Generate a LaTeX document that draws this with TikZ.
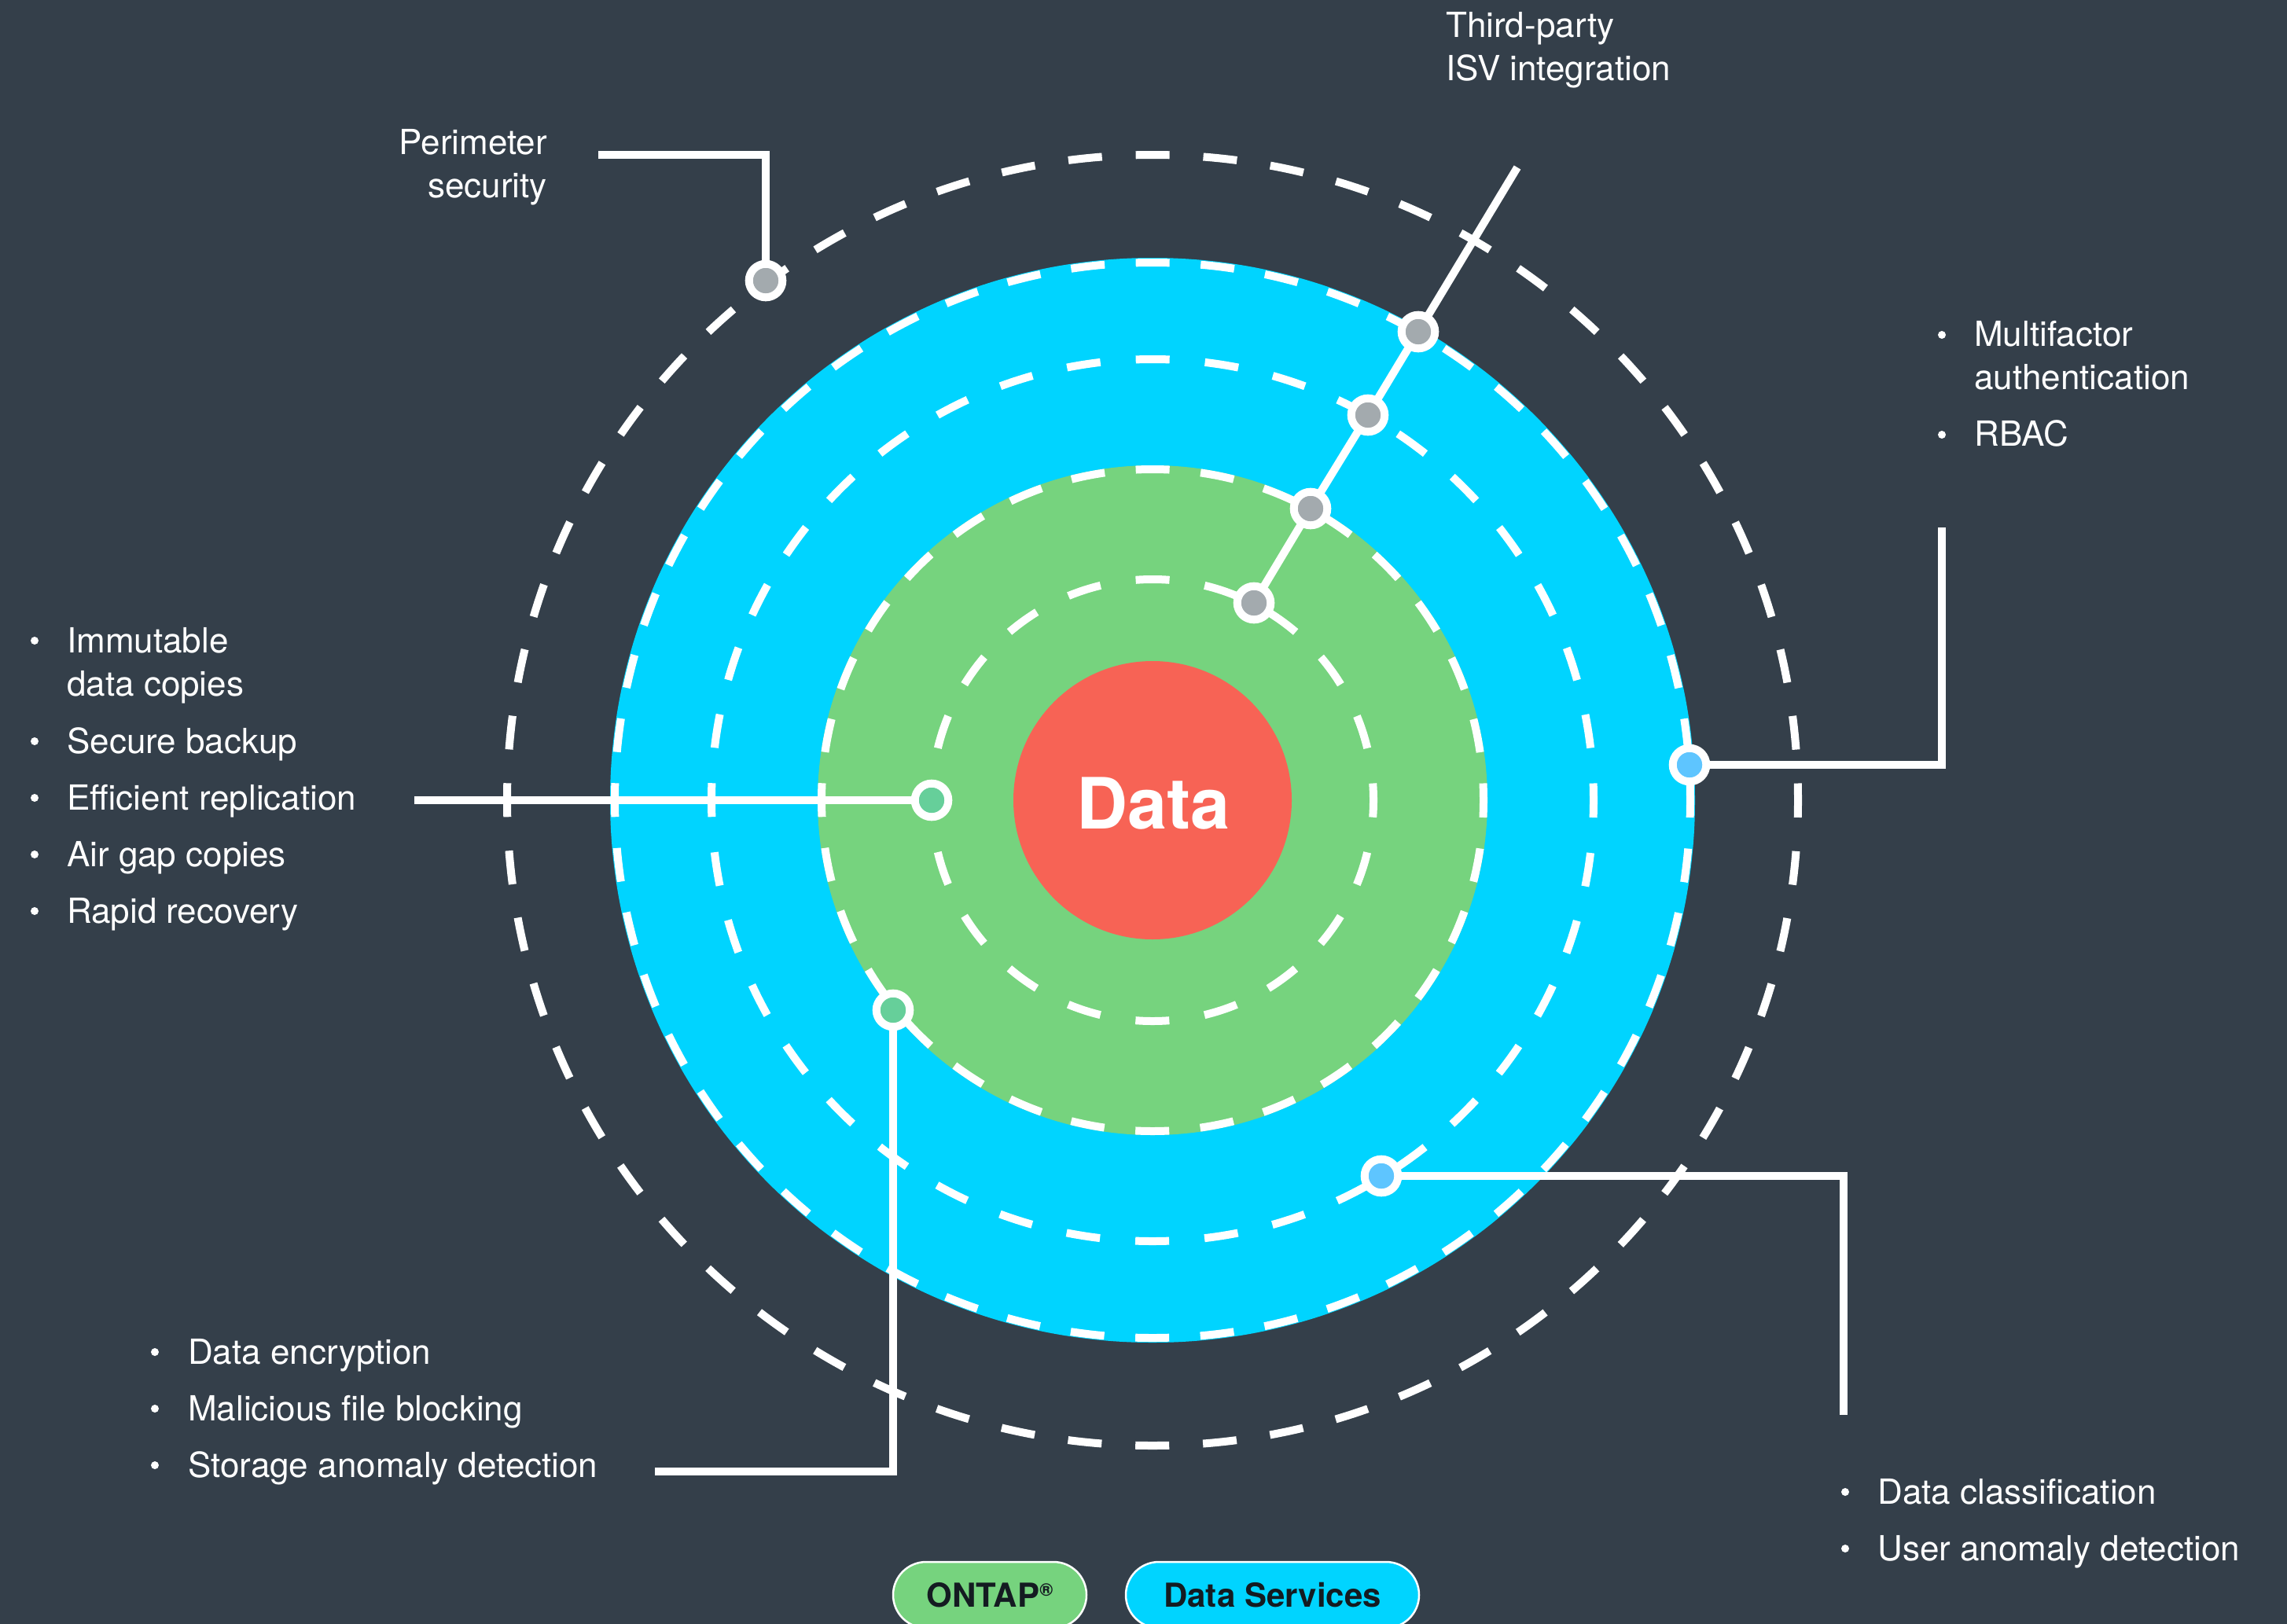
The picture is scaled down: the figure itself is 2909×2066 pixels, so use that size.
\documentclass[tikz,border=0pt]{standalone}
\usepackage{fontspec}
\setmainfont{TeX Gyre Heros}
\definecolor{bgc}{HTML}{343F4A}
\definecolor{bluec}{HTML}{00D4FF}
\definecolor{greenc}{HTML}{76D37E}
\definecolor{redc}{HTML}{F76355}
\definecolor{grayn}{HTML}{A3AAAE}
\definecolor{greenn}{HTML}{66CF9A}
\definecolor{bluen}{HTML}{5EC5FF}
\definecolor{pilltext}{HTML}{141B21}
\newcommand\lstL[1]{\vtop{\halign{##\hfil\cr#1\crcr}}}
\newcommand\lstR[1]{\vtop{\halign{\hfil##\cr#1\crcr}}}
\begin{document}
\begin{tikzpicture}[x=1pt,y=-1pt,
  conn/.style={draw=white, line width=10pt},
  dotn/.style={circle, draw=white, line width=10pt, minimum size=42.6pt, inner sep=0pt, outer sep=0pt},
  lab/.style={text=white, font=\fontsize{44}{55}\selectfont, inner sep=0pt, anchor=base west},
  labR/.style={lab, anchor=base east},
  bul/.style={fill=white},
  ringd/.style={draw=white, line width=10pt, dash phase=21.5pt},
  pill/.style={draw=white, line width=2.5pt, rounded corners=42pt, minimum height=84pt, inner sep=0pt, text=pilltext, font=\fontsize{42}{42}\selectfont\bfseries, text height=30pt, text depth=0pt},
  ]
\useasboundingbox (0,0) rectangle (2909,2066);
\clip (0,0) rectangle (2909,2066);
\fill[bgc] (0,0) rectangle (2909,2066);

% discs
\fill[bluec] (1466,1018) circle[radius=690pt];
\fill[greenc] (1466,1018) circle[radius=426pt];
\fill[redc] (1466,1018) circle[radius=177pt];

% dashed rings
\draw[ringd, dash pattern=on 43pt off 42.98pt] (1466,1018) circle[radius=821pt];
\draw[ringd, dash pattern=on 43pt off 39.65pt] (1466,1018) circle[radius=684pt];
\draw[ringd, dash pattern=on 43pt off 45.12pt] (1466,1018) circle[radius=561pt];
\draw[ringd, dash pattern=on 43pt off 39.66pt] (1466,1018) circle[radius=421pt];
\draw[ringd, dash pattern=on 43pt off 45.28pt] (1466,1018) circle[radius=281pt];

% centre text
\node[text=white, font=\fontsize{90}{90}\selectfont\bfseries, inner sep=0pt, anchor=base] (tData) at (1467,1054) {Data};

% marker nodes
\node[dotn, fill=grayn] (nPer) at (974,357) {};
\node[dotn, fill=grayn] (nT1) at (1804,422) {};
\node[dotn, fill=grayn] (nT2) at (1740,528) {};
\node[dotn, fill=grayn] (nT3) at (1667,647) {};
\node[dotn, fill=grayn] (nT4) at (1595,767) {};
\node[dotn, fill=bluen] (nMul) at (2149,973) {};
\node[dotn, fill=greenn] (nLeft) at (1185,1018) {};
\node[dotn, fill=greenn] (nBL) at (1136,1285) {};
\node[dotn, fill=bluen] (nBR) at (1757,1496) {};

% connector free ends
\coordinate (ePer) at (761,197);
\coordinate (eT) at (1930,213);
\coordinate (eMul) at (2470,671);
\coordinate (eLeft) at (527,1018);
\coordinate (eBL) at (833,1872);
\coordinate (eBR) at (2345,1800);

% connectors
\draw[conn] (nPer) |- (ePer);
\draw[conn] (eT) -- (nT1);
\draw[conn] (nT1) -- (nT2);
\draw[conn] (nT2) -- (nT3);
\draw[conn] (nT3) -- (nT4);
\draw[conn] (nMul) -| (eMul);
\draw[conn] (eLeft) -- (nLeft);
\draw[conn] (nBL) |- (eBL);
\draw[conn] (nBR) -| (eBR);

% labels
\node[lab] (tThird) at (1839,48) {\lstL{Third-party\cr ISV integration}};
\node[labR] (tPer) at (696,196) {\lstR{Perimeter\cr security}};

\fill[bul] (2470,426) circle[radius=5pt];
\node[lab] (tMul) at (2511,440) {\lstL{Multifactor\cr authentication}};
\fill[bul] (2470,553) circle[radius=5pt];
\node[lab] (tRBAC) at (2511,567) {RBAC};

\fill[bul] (44,815) circle[radius=5pt];
\node[lab] (tImm) at (85,830) {\lstL{Immutable\cr data copies}};
\fill[bul] (44,943) circle[radius=5pt];
\node[lab] (tSec) at (85,958) {Secure backup};
\fill[bul] (44,1015) circle[radius=5pt];
\node[lab] (tEff) at (85,1030) {Efficient replication};
\fill[bul] (44,1087) circle[radius=5pt];
\node[lab] (tAir) at (85,1102) {Air gap copies};
\fill[bul] (44,1159) circle[radius=5pt];
\node[lab] (tRap) at (85,1174) {Rapid recovery};

\fill[bul] (197,1720) circle[radius=5pt];
\node[lab] (tEnc) at (239,1735) {Data encryption};
\fill[bul] (197,1792) circle[radius=5pt];
\node[lab] (tMal) at (239,1807) {Malicious file blocking};
\fill[bul] (197,1864) circle[radius=5pt];
\node[lab] (tSto) at (239,1879) {Storage anomaly detection};

\fill[bul] (2347,1898) circle[radius=5pt];
\node[lab] (tCla) at (2388,1913) {Data classification};
\fill[bul] (2347,1970) circle[radius=5pt];
\node[lab] (tUser) at (2388,1985) {User anomaly detection};

% legend pills
\node[pill, fill=greenc, minimum width=246pt] (pOntap) at (1259,2029) {ONTAP\raisebox{14pt}{\fontsize{23}{23}\selectfont ®}};
\node[pill, fill=bluec, minimum width=373pt] (pDS) at (1618.5,2029) {Data Services};
\end{tikzpicture}
\end{document}
